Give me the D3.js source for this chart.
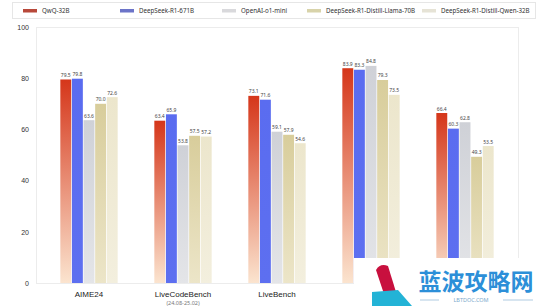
<!DOCTYPE html>
<html><head><meta charset="utf-8">
<script src="https://cdn.jsdelivr.net/npm/d3@7"></script>
<style>body{margin:0;background:#fff;} svg{display:block;font-family:"Noto Sans",Lato,sans-serif;}</style>
</head><body>
<svg id="c" width="550" height="308"></svg>
<script>
const categories = ["AIME24","LiveCodeBench","LiveBench","IFEval","BFCL"];
const subLabels = ["","(24.08-25.02)","","",""];
const seriesNames = ["QwQ-32B","DeepSeek-R1-671B","OpenAI-o1-mini","DeepSeek-R1-Distill-Llama-70B","DeepSeek-R1-Distill-Qwen-32B"];
const qwq     = [79.5, 63.4, 73.1, 83.9, 66.4];
const r1      = [79.8, 65.9, 71.6, 83.3, 60.3];
const o1mini  = [63.6, 53.8, 59.1, 84.8, 62.8];
const llama70 = [70.0, 57.5, 57.9, 79.3, 49.3];
const qwen32  = [72.6, 57.2, 54.6, 73.5, 53.5];
const yTicks = [0,20,40,60,80,100];
const seriesValues = [qwq, r1, o1mini, llama70, qwen32];

const svg = d3.select("#c");
const defs = svg.append("defs");
const grads = [
  ["#d5361a","#fbe4cf"],
  ["#5a6cf0","#5d6ff0"],
  ["#cfd1d7","#e4e5e8"],
  ["#d8cd9b","#ece5c8"],
  ["#ece6cc","#f3efde"]
];
const legendCols = ["#b8483a","#6c74c8","#d9d9dc","#d8d3aa","#e6e3d6"];
grads.forEach((g,i)=>{
  const lg = defs.append("linearGradient").attr("id","g"+i).attr("x1",0).attr("y1",0).attr("x2",0).attr("y2",1);
  lg.append("stop").attr("offset","0%").attr("stop-color",g[0]);
  lg.append("stop").attr("offset","100%").attr("stop-color",g[1]);
});

const y = d3.scaleLinear().domain([0,100]).range([283,27]);
const x0 = d3.scaleBand().domain(categories).range([42,512]).paddingInner(0.39).paddingOuter(0.195);
const x1 = d3.scaleBand().domain(seriesNames).range([0,x0.bandwidth()]).paddingInner(0.06);

// plot frame
svg.append("rect").attr("x",36.5).attr("y",y(100)+0.5).attr("width",482).attr("height",y(0)-y(100))
  .attr("fill","none").attr("stroke","#ececec").attr("stroke-width",1);

// y axis
const yAxis = d3.axisLeft(y).tickValues(yTicks).tickSize(0).tickPadding(8);
const ya = svg.append("g").attr("transform","translate(37,0)").call(yAxis);
ya.select(".domain").remove();
ya.selectAll("text").attr("font-size",7).attr("fill","#333");

// bars
const groups = svg.append("g").selectAll("g").data(categories).join("g")
  .attr("transform",d=>`translate(${x0(d)},0)`);
groups.each(function(cat,ci){
  const g = d3.select(this);
  seriesNames.forEach((s,si)=>{
    const v = seriesValues[si][ci];
    g.append("rect").attr("x",x1(s)).attr("y",y(v)).attr("width",x1.bandwidth()).attr("height",y(0)-y(v))
      .attr("fill",`url(#g${si})`);
    g.append("text").attr("x",x1(s)+x1.bandwidth()/2).attr("y",y(v)-2.5)
      .attr("text-anchor","middle").attr("font-size",5).attr("fill","#444").text(v.toFixed(1));
  });
});

// watermark overlay region (covers the last two category labels in the reference)
const wmX = 354;

// x axis labels
const xa = svg.append("g").attr("transform",`translate(0,${y(0)})`)
  .call(d3.axisBottom(x0).tickSize(0).tickPadding(8));
xa.select(".domain").remove();
xa.selectAll("text").attr("font-size",8).attr("fill","#222").attr("font-weight",500)
  .style("display",d=>(x0(d) + x0.bandwidth()/2 > wmX) ? "none" : null);
svg.append("g").selectAll("text").data(categories.filter((d,i)=>subLabels[i])).join("text")
  .attr("x",d=>x0(d)+x0.bandwidth()/2).attr("y",305).attr("text-anchor","middle")
  .attr("font-size",5.5).attr("fill","#777").text(d=>subLabels[categories.indexOf(d)]);

// legend
svg.append("rect").attr("x",12.5).attr("y",2.5).attr("width",523).attr("height",16)
  .attr("fill","#fff").attr("stroke","#e6e6e6");
const legX = [23,120,222,307,422];
seriesNames.forEach((s,i)=>{
  svg.append("rect").attr("x",legX[i]).attr("y",9).attr("width",14).attr("height",3.5).attr("fill",legendCols[i]);
  svg.append("text").attr("x",legX[i]+19).attr("y",13).attr("font-size",6.2).attr("fill","#333").text(s);
});

// watermark overlay
const wm = svg.append("g");
wm.append("rect").attr("x",wmX).attr("y",258).attr("width",196).attr("height",50).attr("fill","#fff");
wm.append("path").attr("d","M376,270 Q380,263 388,266 L396,292 L384,294 Z").attr("fill","#c8103e");
wm.append("path").attr("d","M372,292 L398,290 L412,306 L372,306 Z").attr("fill","#23b3d6");
wm.append("text").attr("x",476).attr("y",290).attr("text-anchor","middle").attr("font-size",23)
  .attr("font-weight",700).attr("fill","#2c8fd8").attr("font-family","Noto Sans CJK SC").text("蓝波攻略网");
wm.append("text").attr("x",471).attr("y",302).attr("text-anchor","middle").attr("font-size",5.5)
  .attr("fill","#7aa9cc").text("LBTDOC.COM");
wm.append("line").attr("x1",420).attr("x2",439).attr("y1",300).attr("y2",300).attr("stroke","#7aa9cc").attr("stroke-width",0.6);
wm.append("line").attr("x1",503).attr("x2",533).attr("y1",300).attr("y2",300).attr("stroke","#7aa9cc").attr("stroke-width",0.6);
</script>
</body></html>
